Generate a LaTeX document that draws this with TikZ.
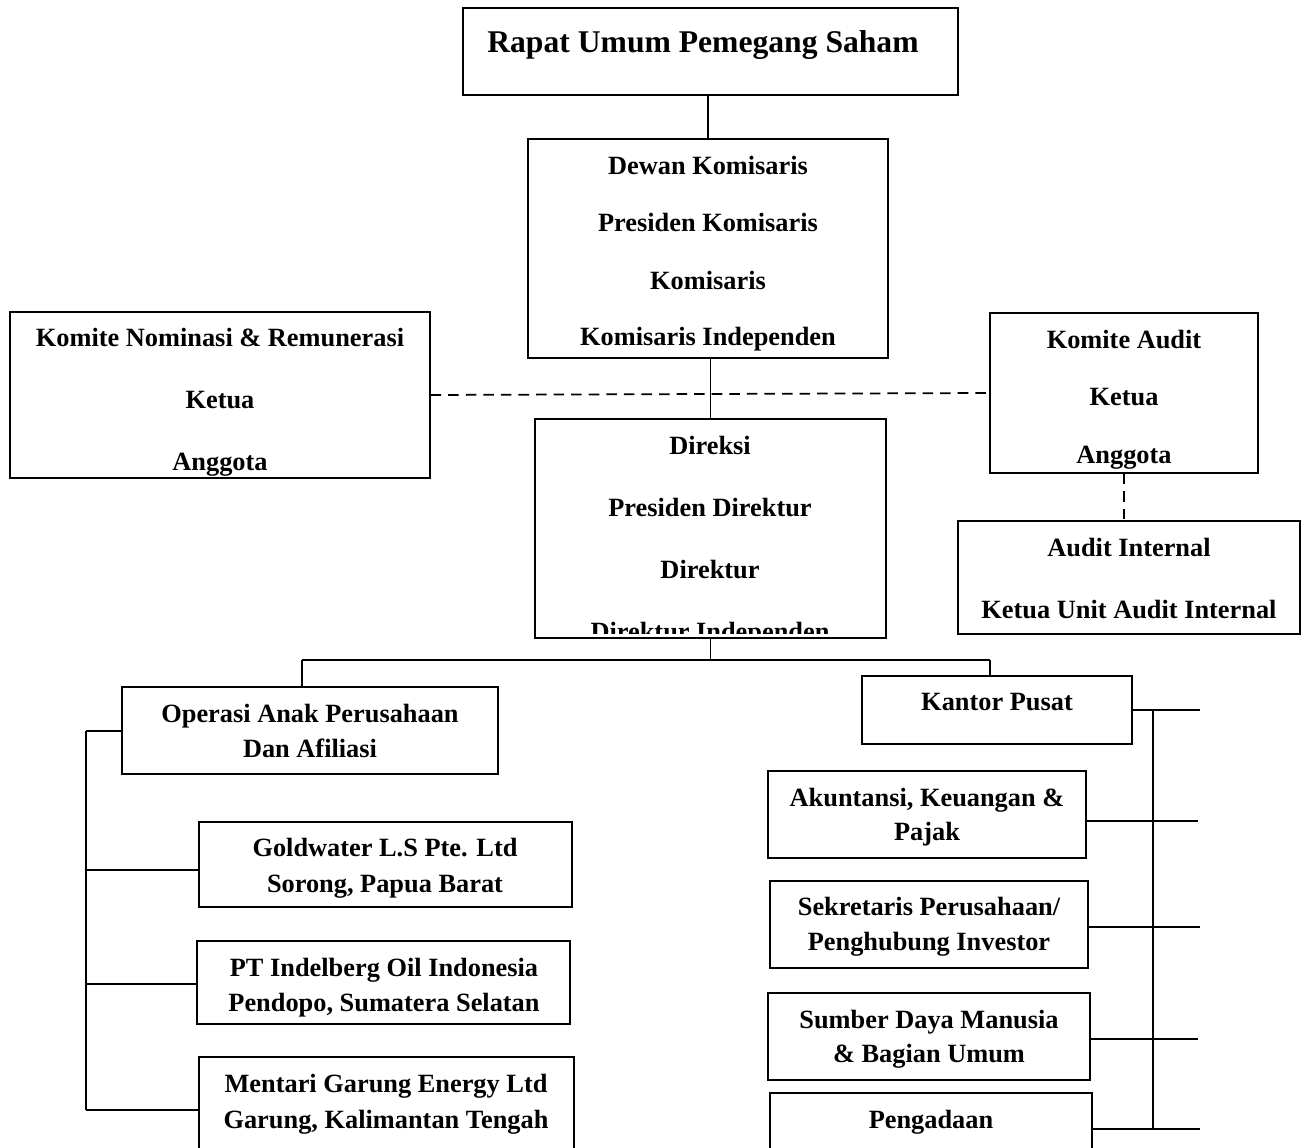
\documentclass[tikz,border=0pt]{standalone}
\usepackage{fontspec}
\setmainfont{Liberation Serif}
\usetikzlibrary{positioning,fit}
\tikzset{
  box/.style={rectangle, draw=black, line width=0.7pt, inner sep=0pt},
  txt/.style={font=\fontsize{15}{18}\selectfont\bfseries, inner sep=0pt, text height=1.4ex, text depth=.3ex, yshift=-2.3pt},
  ttl/.style={font=\fontsize{18}{22}\selectfont\bfseries, inner sep=0pt, text height=1.4ex, text depth=.3ex, yshift=-3.4pt},
  line/.style={draw, line width=0.7pt},
  dline/.style={draw, line width=1pt, dash pattern=on 6pt off 4pt},
}

\begin{document}
\begin{tikzpicture}[x=0.02cm,y=-0.02cm]
    \clip (0,0) rectangle (1307,1148);

    % top of the structure
    \node[box, fit={(463,8) (958,95)}] (rups) {};
    \node[ttl] (rupsT) at (703,42) {Rapat Umum Pemegang Saham};

    \node[box, fit={(528,139) (888,358)}] (dewan) {};
    \node[txt] (dewan1) at (708,166) {Dewan Komisaris};
    \node[txt] (dewan2) at (708,223) {Presiden Komisaris};
    \node[txt] (dewan3) at (708,281) {Komisaris};
    \node[txt] (dewan4) at (708,337) {Komisaris Independen};

    \node[box, fit={(10,312) (430,478)}] (nom) {};
    \begin{scope}
      \clip (11,313) rectangle (429,475);
      \node[txt] (nom1) at (220,338) {Komite Nominasi \& Remunerasi};
      \node[txt] (nom2) at (220,400) {Ketua};
      \node[txt] (nom3) at (220,462) {Anggota};
    \end{scope}

    \node[box, fit={(990,313) (1258,473)}] (audit) {};
    \node[txt] (audit1) at (1124,340) {Komite Audit};
    \node[txt] (audit2) at (1124,397) {Ketua};
    \node[txt] (audit3) at (1124,455) {Anggota};

    \node[box, fit={(958,521) (1300,634)}] (audint) {};
    \node[txt] (audint1) at (1129,548) {Audit Internal};
    \node[txt] (audint2) at (1129,610) {Ketua Unit Audit Internal};

    \node[box, fit={(535,419) (886,638)}] (direksi) {};
    \begin{scope}
      \clip (536,420) rectangle (885,633);
      \node[txt] (dir1) at (710,446) {Direksi};
      \node[txt] (dir2) at (710,508) {Presiden Direktur};
      \node[txt] (dir3) at (710,570) {Direktur};
      \node[txt] (dir4) at (710,632) {Direktur Independen};
    \end{scope}

    % subsidiaries
    \node[box, fit={(122,687) (498,774)}] (ops) {};
    \node[txt] (ops1) at (310,714) {Operasi Anak Perusahaan};
    \node[txt] (ops2) at (310,749) {Dan Afiliasi};

    \node[box, fit={(199,822) (572,907)}] (gold) {};
    \node[txt] (gold1) at (385,848) {Goldwater L.S Pte. Ltd};
    \node[txt] (gold2) at (385,884) {Sorong, Papua Barat};

    \node[box, fit={(197,941) (570,1024)}] (indel) {};
    \node[txt] (indel1) at (384,968) {PT Indelberg Oil Indonesia};
    \node[txt] (indel2) at (384,1003) {Pendopo, Sumatera Selatan};

    \node[box, fit={(199,1057) (574,1170)}] (mentari) {};
    \node[txt] (mentari1) at (386,1084) {Mentari Garung Energy Ltd};
    \node[txt] (mentari2) at (386,1120) {Garung, Kalimantan Tengah};

    % head office
    \node[box, fit={(862,676) (1132,744)}] (kp) {};
    \node[txt] (kp1) at (997,702) {Kantor Pusat};

    \node[box, fit={(768,771) (1086,858)}] (akt) {};
    \node[txt] (akt1) at (927,798) {Akuntansi, Keuangan \&};
    \node[txt] (akt2) at (927,832) {Pajak};

    \node[box, fit={(770,881) (1088,968)}] (sek) {};
    \node[txt] (sek1) at (929,907) {Sekretaris Perusahaan/};
    \node[txt] (sek2) at (929,942) {Penghubung Investor};

    \node[box, fit={(768,993) (1090,1080)}] (sdm) {};
    \node[txt] (sdm1) at (929,1020) {Sumber Daya Manusia};
    \node[txt] (sdm2) at (929,1054) {\& Bagian Umum};

    \node[box, fit={(770,1093) (1092,1170)}] (peng) {};
    \node[txt] (peng1) at (931,1120) {Pengadaan};

    % connectors
    \coordinate (busL) at (302,660);
    \coordinate (busR) at (990,660);
    \coordinate (lbT) at (86,731);
    \coordinate (lb2) at (86,870);
    \coordinate (lb3) at (86,984);
    \coordinate (lbB) at (86,1110);
    \coordinate (rbT) at (1153,710);
    \coordinate (rbB) at (1153,1130);
    \coordinate (rt1) at (1200,710);
    \coordinate (rt2) at (1198,821);
    \coordinate (rt3) at (1200,927);
    \coordinate (rt4) at (1198,1039);
    \coordinate (rt5) at (1200,1129);

    \begin{scope}[every path/.style=line]
      \path (dewan.north) -- (dewan.north |- rups.south);
      \path (direksi.north) -- (direksi.north |- dewan.south);
      \path (direksi.south) -- (direksi.south |- busL);
      \path (busL) -- (busR);
      \path (busL) -- (busL |- ops.north);
      \path (busR) -- (busR |- kp.north);

      \path (lbT) -- (lbB);
      \path (lbT) -- (lbT -| ops.west);
      \path (lb2) -- (lb2 -| gold.west);
      \path (lb3) -- (lb3 -| indel.west);
      \path (lbB) -- (lbB -| mentari.west);

      \path (rbT) -- (rbB);
      \path (kp.east) -- (rt1);
      \path (rt2 -| akt.east) -- (rt2);
      \path (rt3 -| sek.east) -- (rt3);
      \path (rt4 -| sdm.east) -- (rt4);
      \path (rt5 -| peng.east) -- (rt5);
    \end{scope}

    \path[dline] (nom.east) -- (audit.west);
    \path[dline] (audit.south) -- (audit.south |- audint.north);
\end{tikzpicture}
\end{document}
